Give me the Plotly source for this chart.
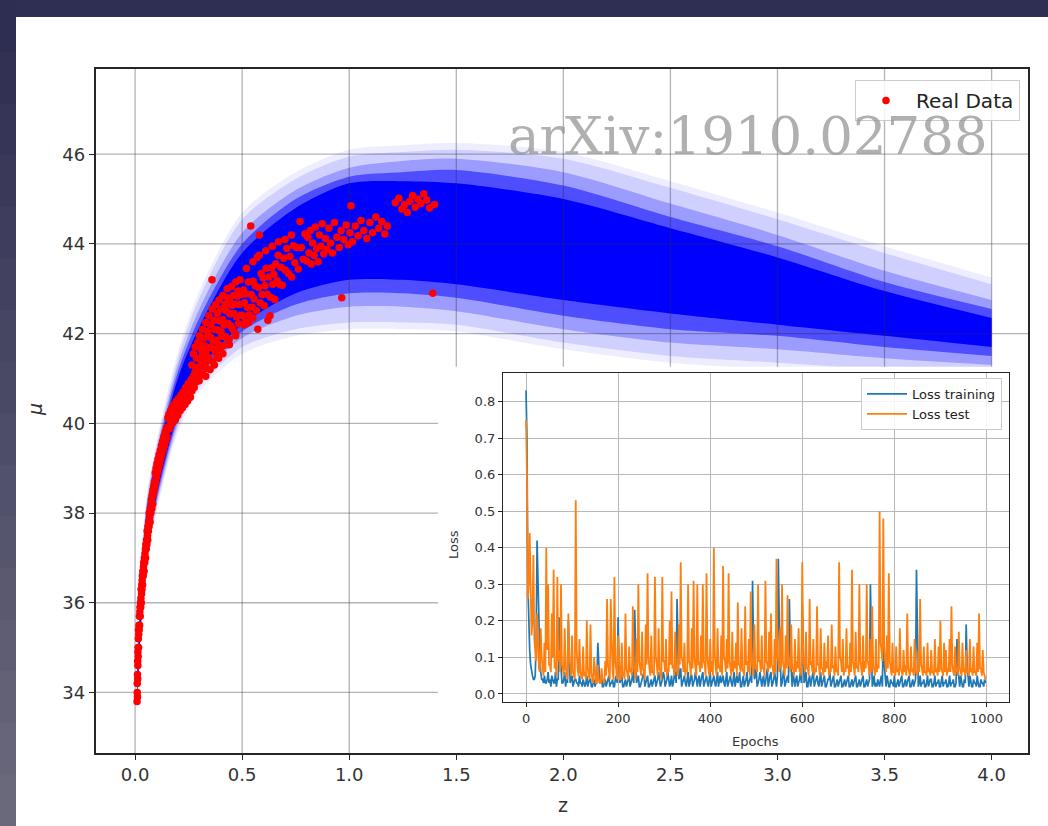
import plotly.graph_objects as go

W, H = 1048, 826

# ---------------- main panel: observed supernova data (z, mu) ----------------
Z_SEG1 = [0.009, 0.010, 0.010, 0.011, 0.011, 0.012, 0.012, 0.013, 0.013, 0.014, 0.014, 0.015, 0.016, 0.016,
          0.017, 0.018, 0.019, 0.020, 0.021, 0.022, 0.023, 0.024, 0.025, 0.026, 0.027, 0.028, 0.029, 0.030,
          0.031, 0.032, 0.033, 0.034, 0.035, 0.036, 0.038, 0.039, 0.040, 0.042, 0.043, 0.045, 0.046, 0.048, 0.049]
MU_SEG1 = [33.8, 34.0, 34.2, 33.9, 34.4, 34.3, 34.7, 34.6, 34.9, 35.0, 34.8, 35.2, 35.0, 35.4,
           35.3, 35.5, 35.4, 35.7, 35.5, 35.8, 35.9, 35.7, 36.0, 35.9, 36.1, 36.3, 36.0, 36.2,
           36.4, 36.3, 36.5, 36.6, 36.4, 36.7, 36.6, 36.8, 36.9, 36.7, 37.0, 36.9, 37.1, 37.2, 37.0]

Z_SEG2 = [0.050, 0.052, 0.053, 0.055, 0.056, 0.058, 0.059, 0.060, 0.062, 0.063, 0.065, 0.066, 0.068, 0.070,
          0.071, 0.073, 0.075, 0.076, 0.078, 0.080, 0.082, 0.083, 0.085, 0.087, 0.089, 0.090, 0.092, 0.094,
          0.096, 0.098, 0.100, 0.102, 0.105, 0.107, 0.110, 0.112, 0.115, 0.118, 0.120, 0.123, 0.125, 0.128,
          0.131, 0.134, 0.137, 0.140, 0.143, 0.146, 0.149]
MU_SEG2 = [37.3, 37.2, 37.4, 37.3, 37.6, 37.5, 37.4, 37.7, 37.6, 37.8, 37.7, 38.0, 37.9, 37.8,
           38.1, 38.0, 38.2, 38.3, 38.1, 38.4, 38.2, 38.5, 38.4, 38.6, 38.5, 38.7, 38.6, 38.9,
           38.7, 39.0, 38.8, 39.1, 38.9, 39.2, 39.0, 39.3, 39.1, 39.4, 39.2, 39.5, 39.3, 39.6,
           39.4, 39.7, 39.5, 39.8, 39.6, 39.9, 39.7]

Z_SEG3 = [0.151, 0.153, 0.156, 0.158, 0.161, 0.163, 0.166, 0.168, 0.171, 0.173, 0.176, 0.178, 0.181, 0.183,
          0.186, 0.188, 0.191, 0.194, 0.196, 0.199, 0.202, 0.204, 0.207, 0.210, 0.213, 0.216, 0.218, 0.221,
          0.224, 0.227, 0.230, 0.233, 0.236, 0.239, 0.242, 0.245, 0.248, 0.252, 0.255, 0.258, 0.262, 0.265,
          0.269, 0.272, 0.276, 0.280, 0.284, 0.288, 0.292, 0.296, 0.299]
MU_SEG3 = [39.85, 40.12, 39.92, 40.20, 39.88, 40.05, 40.28, 39.98, 40.15, 40.35, 40.02, 40.22, 40.42, 40.10,
           40.30, 40.08, 40.48, 40.25, 40.40, 40.18, 40.55, 40.32, 40.45, 40.28, 40.62, 40.40, 40.55, 40.35,
           40.70, 40.48, 40.62, 40.42, 40.80, 40.55, 40.70, 40.50, 40.88, 40.62, 40.78, 40.58, 40.98, 40.72,
           40.88, 41.05, 40.80, 41.15, 40.92, 41.25, 41.02, 41.18, 40.95]

Z_SEG4 = [0.301, 0.303, 0.307, 0.309, 0.314, 0.316, 0.319, 0.324, 0.326, 0.331, 0.333, 0.337, 0.342, 0.344,
          0.349, 0.352, 0.355, 0.359, 0.361, 0.364, 0.368, 0.371, 0.375, 0.378, 0.383, 0.386, 0.389, 0.393,
          0.397, 0.401, 0.404, 0.409, 0.413, 0.416, 0.421, 0.425, 0.428, 0.432, 0.434, 0.439, 0.443, 0.447,
          0.452, 0.456, 0.461, 0.466, 0.469, 0.474, 0.478, 0.483, 0.487, 0.492, 0.497]
MU_SEG4 = [41.43, 41.07, 41.65, 41.31, 41.57, 41.10, 41.44, 41.73, 41.29, 41.58, 41.23, 41.69, 41.47, 41.95,
           41.40, 41.69, 41.91, 43.20, 41.38, 41.83, 41.66, 42.09, 41.59, 41.85, 41.49, 42.08, 41.76, 42.28,
           41.67, 42.05, 41.94, 42.31, 41.73, 42.19, 41.94, 42.51, 41.89, 42.80, 42.23, 41.87, 42.44, 42.17,
           42.63, 42.10, 42.45, 42.01, 42.66, 42.37, 42.84, 42.22, 42.65, 42.41, 42.87]

Z_SEG5 = [0.502, 0.506, 0.511, 0.515, 0.519, 0.524, 0.529, 0.533, 0.540, 0.542, 0.547, 0.551, 0.556, 0.561,
          0.566, 0.570, 0.573, 0.577, 0.580, 0.584, 0.588, 0.593, 0.598, 0.603, 0.607, 0.612, 0.617, 0.620,
          0.624, 0.630, 0.633, 0.638, 0.643, 0.648, 0.652, 0.657, 0.663, 0.668, 0.674, 0.681, 0.687, 0.694,
          0.701, 0.708, 0.716, 0.723, 0.731, 0.739, 0.746, 0.754, 0.762, 0.770, 0.776, 0.785, 0.793]
MU_SEG5 = [42.41, 42.97, 42.69, 42.28, 42.89, 42.59, 43.15, 42.42, 44.40, 42.87, 42.59, 43.17, 42.77, 43.07,
           42.51, 43.70, 42.10, 43.03, 44.20, 42.69, 43.34, 42.87, 43.24, 42.62, 43.07, 43.46, 42.88, 42.30,
           43.26, 42.40, 42.81, 43.47, 43.10, 43.32, 42.76, 43.55, 43.18, 43.75, 43.10, 43.48, 43.08, 43.68,
           43.42, 43.90, 43.34, 43.72, 43.26, 43.96, 43.58, 43.92, 43.44, 44.50, 43.92, 43.66, 44.22]

Z_SEG6 = [0.801, 0.806, 0.812, 0.818, 0.823, 0.829, 0.836, 0.842, 0.848, 0.855, 0.861, 0.868, 0.874, 0.881,
          0.889, 0.896, 0.905, 0.913, 0.922, 0.931, 0.942, 0.953, 0.962, 0.965, 0.974, 0.986, 0.995]
MU_SEG6 = [43.62, 44.15, 43.80, 44.30, 43.55, 44.02, 43.74, 44.38, 43.90, 43.60, 44.20, 43.95, 44.45, 43.78,
           44.12, 43.88, 44.35, 44.02, 43.80, 44.48, 44.15, 43.92, 44.30, 42.80, 44.10, 44.42, 43.98]

Z_SEG7 = [1.003, 1.008, 1.015, 1.028, 1.041, 1.055, 1.068, 1.082, 1.096, 1.109, 1.124, 1.138, 1.152, 1.166,
          1.178, 1.215, 1.232, 1.246, 1.259, 1.271, 1.283, 1.296, 1.308, 1.321, 1.335, 1.348, 1.362, 1.375,
          1.390, 1.398]
MU_SEG7 = [44.25, 44.85, 44.05, 44.40, 44.18, 44.52, 44.30, 44.12, 44.48, 44.25, 44.60, 44.35, 44.50, 44.22,
           44.40, 44.92, 45.02, 44.78, 44.88, 44.70, 44.95, 45.08, 44.82, 45.00, 44.90, 45.12, 44.98, 44.80,
           42.90, 44.88]

# upper and lower edges of the scattered cloud at intermediate redshift
Z_UPPER_EDGE = [0.265, 0.272, 0.280, 0.287, 0.293, 0.300, 0.308, 0.315, 0.322, 0.330, 0.338, 0.345, 0.352,
                0.360, 0.368, 0.376, 0.384, 0.392, 0.400, 0.410, 0.420, 0.430, 0.440, 0.450, 0.460, 0.470,
                0.480, 0.490, 0.520, 0.550, 0.580, 0.610, 0.640, 0.670, 0.700, 0.730]
MU_UPPER_EDGE = [41.30, 41.55, 41.70, 41.45, 41.80, 41.95, 41.75, 42.10, 41.90, 42.25, 42.05, 42.40, 42.20,
                 42.55, 42.30, 42.65, 42.45, 42.75, 42.55, 42.85, 42.65, 43.00, 42.75, 43.05, 42.85, 43.15,
                 42.95, 43.20, 43.45, 43.60, 43.75, 43.85, 43.95, 44.05, 44.10, 44.20]
Z_LOWER_EDGE = [0.330, 0.350, 0.370, 0.390, 0.410, 0.440, 0.470, 0.510, 0.530, 0.550]
MU_LOWER_EDGE = [41.05, 41.20, 41.30, 41.45, 41.55, 41.75, 41.95, 42.20, 42.25, 42.35]

# ---------------- main panel: predicted band (nested envelopes, outer -> core) ----------------
BAND_Z = [0.01, 0.05, 0.1, 0.2, 0.3, 0.5, 0.75, 1.0, 1.25, 1.5, 2.0, 2.5, 3.0, 3.5, 4.0]
BAND_UP_0 = [34.6, 38.2, 39.6, 41.6, 42.95, 44.7, 45.6, 46.1, 46.2, 46.25, 46.05, 45.4, 44.7, 43.95, 43.25]
BAND_UP_1 = [34.55, 38.15, 39.5, 41.45, 42.8, 44.55, 45.45, 45.95, 46.05, 46.1, 45.9, 45.25, 44.55, 43.8, 43.1]
BAND_UP_2 = [34.5, 38.05, 39.4, 41.3, 42.55, 44.25, 45.2, 45.7, 45.85, 45.9, 45.6, 44.9, 44.2, 43.4, 42.75]
BAND_UP_3 = [34.45, 37.95, 39.3, 41.15, 42.35, 44.0, 45.0, 45.5, 45.6, 45.65, 45.3, 44.6, 43.95, 43.15, 42.55]
BAND_UP_CORE = [34.4, 37.85, 39.2, 41.0, 42.15, 43.8, 44.8, 45.35, 45.4, 45.35, 45.0, 44.35, 43.7, 42.95, 42.35]
BAND_LO_CORE = [33.9, 37.0, 38.4, 40.2, 41.2, 42.2, 42.9, 43.2, 43.2, 43.1, 42.75, 42.45, 42.2, 41.95, 41.7]
BAND_LO_3 = [33.85, 36.95, 38.3, 40.1, 41.05, 42.05, 42.65, 42.9, 42.9, 42.8, 42.4, 42.1, 41.95, 41.7, 41.5]
BAND_LO_2 = [33.8, 36.9, 38.2, 40.0, 40.95, 41.9, 42.4, 42.6, 42.6, 42.5, 42.1, 41.8, 41.65, 41.45, 41.3]
BAND_LO_1 = [33.7, 36.8, 38.1, 39.9, 40.8, 41.7, 42.1, 42.25, 42.25, 42.2, 41.8, 41.5, 41.35, 41.2, 41.1]
BAND_LO_0 = [33.65, 36.75, 38.0, 39.8, 40.7, 41.55, 41.95, 42.1, 42.1, 42.05, 41.65, 41.35, 41.2, 41.1, 41.0]

Z_TICKS = [0.0, 0.5, 1.0, 1.5, 2.0, 2.5, 3.0, 3.5, 4.0]
MU_TICKS = [34, 36, 38, 40, 42, 44, 46]
X_RANGE = [-0.185, 4.17]
Y_RANGE = [32.65, 47.9]

# ---------------- inset: loss curves ----------------
# values at epochs 0, 4, 8, ... and at the in-between epochs 2, 6, 10, ...
EPOCHS = list(range(0, 1000, 4))
EPOCHS_MID = list(range(2, 1000, 4))
LOSS_TRAIN = [
    0.83, 0.30, 0.12, 0.06, 0.04, 0.05, 0.42, 0.20, 0.06, 0.04,
    0.05, 0.03, 0.06, 0.04, 0.05, 0.03, 0.06, 0.04, 0.21, 0.05,
    0.03, 0.06, 0.04, 0.20, 0.03, 0.05, 0.03, 0.04, 0.03, 0.05,
    0.03, 0.04, 0.02, 0.05, 0.03, 0.04, 0.02, 0.04, 0.03, 0.14,
    0.03, 0.05, 0.02, 0.04, 0.03, 0.05, 0.03, 0.04, 0.02, 0.05,
    0.21, 0.03, 0.05, 0.02, 0.04, 0.03, 0.05, 0.03, 0.06, 0.23,
    0.03, 0.05, 0.02, 0.04, 0.06, 0.03, 0.05, 0.02, 0.04, 0.03,
    0.05, 0.03, 0.06, 0.02, 0.04, 0.05, 0.03, 0.06, 0.02, 0.05,
    0.03, 0.06, 0.26, 0.04, 0.07, 0.03, 0.05, 0.02, 0.06, 0.03,
    0.05, 0.03, 0.06, 0.02, 0.05, 0.04, 0.06, 0.03, 0.05, 0.02,
    0.06, 0.03, 0.05, 0.02, 0.06, 0.04, 0.03, 0.05, 0.02, 0.06,
    0.03, 0.05, 0.02, 0.06, 0.04, 0.03, 0.06, 0.02, 0.05, 0.03,
    0.06, 0.03, 0.05, 0.31, 0.04, 0.07, 0.03, 0.06, 0.02, 0.05,
    0.03, 0.07, 0.04, 0.06, 0.03, 0.06, 0.02, 0.37, 0.05, 0.03,
    0.07, 0.03, 0.05, 0.26, 0.04, 0.06, 0.02, 0.05, 0.03, 0.06,
    0.25, 0.03, 0.06, 0.02, 0.05, 0.04, 0.06, 0.03, 0.05, 0.02,
    0.06, 0.03, 0.05, 0.02, 0.04, 0.06, 0.03, 0.05, 0.02, 0.04,
    0.03, 0.05, 0.02, 0.04, 0.03, 0.05, 0.02, 0.04, 0.03, 0.05,
    0.02, 0.04, 0.03, 0.05, 0.02, 0.04, 0.03, 0.30, 0.02, 0.05,
    0.03, 0.04, 0.02, 0.05, 0.20, 0.03, 0.05, 0.02, 0.04, 0.03,
    0.05, 0.02, 0.04, 0.03, 0.05, 0.02, 0.04, 0.03, 0.05, 0.02,
    0.04, 0.03, 0.34, 0.02, 0.05, 0.03, 0.04, 0.02, 0.05, 0.03,
    0.04, 0.02, 0.05, 0.03, 0.04, 0.02, 0.05, 0.03, 0.04, 0.02,
    0.05, 0.03, 0.04, 0.02, 0.15, 0.03, 0.05, 0.02, 0.04, 0.19,
    0.03, 0.05, 0.02, 0.04, 0.03, 0.05, 0.02, 0.04, 0.03, 0.04,
]
LOSS_TRAIN_MID = [
    0.70, 0.18, 0.08, 0.05, 0.04, 0.15, 0.30, 0.10, 0.04, 0.03,
    0.03, 0.04, 0.03, 0.02, 0.04, 0.03, 0.02, 0.04, 0.12, 0.03,
    0.04, 0.02, 0.03, 0.10, 0.04, 0.02, 0.04, 0.03, 0.02, 0.03,
    0.02, 0.03, 0.03, 0.02, 0.04, 0.02, 0.03, 0.02, 0.04, 0.08,
    0.04, 0.02, 0.03, 0.02, 0.04, 0.02, 0.03, 0.02, 0.04, 0.03,
    0.08, 0.04, 0.02, 0.03, 0.02, 0.04, 0.02, 0.04, 0.03, 0.10,
    0.04, 0.02, 0.03, 0.05, 0.02, 0.04, 0.02, 0.03, 0.02, 0.04,
    0.02, 0.04, 0.03, 0.03, 0.06, 0.02, 0.04, 0.03, 0.03, 0.02,
    0.05, 0.03, 0.14, 0.05, 0.02, 0.04, 0.03, 0.04, 0.02, 0.05,
    0.02, 0.04, 0.03, 0.04, 0.02, 0.05, 0.02, 0.04, 0.03, 0.04,
    0.02, 0.04, 0.03, 0.04, 0.02, 0.05, 0.04, 0.03, 0.04, 0.02,
    0.04, 0.03, 0.04, 0.02, 0.05, 0.04, 0.02, 0.04, 0.02, 0.04,
    0.02, 0.04, 0.03, 0.15, 0.05, 0.02, 0.04, 0.03, 0.04, 0.02,
    0.05, 0.02, 0.05, 0.02, 0.04, 0.03, 0.05, 0.20, 0.02, 0.05,
    0.02, 0.04, 0.03, 0.12, 0.02, 0.03, 0.04, 0.02, 0.04, 0.03,
    0.12, 0.04, 0.02, 0.04, 0.02, 0.05, 0.02, 0.04, 0.03, 0.04,
    0.02, 0.04, 0.02, 0.03, 0.04, 0.02, 0.04, 0.02, 0.03, 0.02,
    0.04, 0.02, 0.03, 0.02, 0.04, 0.02, 0.03, 0.02, 0.04, 0.02,
    0.03, 0.02, 0.04, 0.02, 0.03, 0.02, 0.04, 0.15, 0.03, 0.02,
    0.02, 0.03, 0.04, 0.02, 0.08, 0.02, 0.03, 0.02, 0.03, 0.02,
    0.02, 0.03, 0.02, 0.04, 0.02, 0.03, 0.02, 0.04, 0.02, 0.03,
    0.02, 0.04, 0.18, 0.03, 0.02, 0.03, 0.02, 0.03, 0.02, 0.04,
    0.02, 0.03, 0.02, 0.03, 0.02, 0.04, 0.02, 0.03, 0.02, 0.03,
    0.02, 0.03, 0.02, 0.03, 0.07, 0.02, 0.03, 0.02, 0.03, 0.08,
    0.02, 0.03, 0.02, 0.03, 0.02, 0.03, 0.02, 0.03, 0.02, 0.03,
]
LOSS_TEST = [
    0.75, 0.26, 0.44, 0.16, 0.38, 0.10, 0.22, 0.07, 0.18, 0.06,
    0.14, 0.40, 0.30, 0.08, 0.22, 0.34, 0.09, 0.32, 0.12, 0.30,
    0.07, 0.18, 0.06, 0.22, 0.08, 0.16, 0.05, 0.53, 0.07, 0.15,
    0.05, 0.13, 0.06, 0.20, 0.05, 0.19, 0.04, 0.10, 0.03, 0.08,
    0.03, 0.07, 0.04, 0.09, 0.26, 0.05, 0.26, 0.06, 0.32, 0.05,
    0.16, 0.04, 0.14, 0.06, 0.22, 0.05, 0.13, 0.07, 0.24, 0.06,
    0.15, 0.30, 0.07, 0.17, 0.06, 0.19, 0.33, 0.07, 0.16, 0.06,
    0.32, 0.08, 0.18, 0.06, 0.32, 0.09, 0.15, 0.07, 0.20, 0.28,
    0.08, 0.17, 0.06, 0.19, 0.36, 0.09, 0.14, 0.07, 0.30, 0.08,
    0.18, 0.31, 0.07, 0.30, 0.09, 0.16, 0.30, 0.08, 0.33, 0.07,
    0.15, 0.09, 0.40, 0.07, 0.18, 0.08, 0.16, 0.35, 0.09, 0.15,
    0.33, 0.07, 0.17, 0.09, 0.14, 0.25, 0.08, 0.18, 0.06, 0.24,
    0.09, 0.15, 0.28, 0.07, 0.19, 0.08, 0.30, 0.09, 0.16, 0.07,
    0.31, 0.08, 0.17, 0.22, 0.07, 0.15, 0.37, 0.09, 0.18, 0.30,
    0.07, 0.16, 0.27, 0.08, 0.19, 0.07, 0.15, 0.09, 0.18, 0.07,
    0.36, 0.08, 0.17, 0.07, 0.26, 0.09, 0.15, 0.07, 0.24, 0.08,
    0.18, 0.07, 0.14, 0.09, 0.16, 0.07, 0.19, 0.08, 0.13, 0.07,
    0.36, 0.09, 0.15, 0.07, 0.18, 0.08, 0.14, 0.34, 0.07, 0.17,
    0.08, 0.30, 0.07, 0.16, 0.09, 0.30, 0.08, 0.15, 0.24, 0.07,
    0.15, 0.08, 0.50, 0.12, 0.48, 0.09, 0.16, 0.33, 0.07, 0.14,
    0.06, 0.13, 0.07, 0.18, 0.06, 0.12, 0.08, 0.22, 0.06, 0.13,
    0.07, 0.15, 0.06, 0.12, 0.26, 0.07, 0.13, 0.06, 0.14, 0.07,
    0.12, 0.06, 0.15, 0.07, 0.13, 0.20, 0.06, 0.14, 0.12, 0.07,
    0.15, 0.24, 0.06, 0.13, 0.07, 0.17, 0.06, 0.14, 0.07, 0.12,
    0.06, 0.15, 0.07, 0.13, 0.06, 0.14, 0.22, 0.07, 0.12, 0.05,
]
LOSS_TEST_MID = [
    0.60, 0.30, 0.25, 0.20, 0.15, 0.09, 0.12, 0.06, 0.10, 0.05,
    0.06, 0.12, 0.08, 0.06, 0.10, 0.07, 0.05, 0.09, 0.06, 0.08,
    0.05, 0.07, 0.04, 0.09, 0.05, 0.06, 0.04, 0.12, 0.05, 0.06,
    0.04, 0.05, 0.04, 0.07, 0.04, 0.06, 0.03, 0.05, 0.03, 0.04,
    0.03, 0.04, 0.03, 0.05, 0.08, 0.04, 0.10, 0.04, 0.09, 0.04,
    0.06, 0.04, 0.05, 0.04, 0.07, 0.04, 0.06, 0.05, 0.08, 0.04,
    0.06, 0.09, 0.05, 0.07, 0.04, 0.08, 0.10, 0.05, 0.06, 0.05,
    0.10, 0.05, 0.07, 0.04, 0.09, 0.06, 0.05, 0.06, 0.08, 0.07,
    0.05, 0.07, 0.05, 0.08, 0.10, 0.06, 0.05, 0.06, 0.09, 0.05,
    0.07, 0.10, 0.05, 0.08, 0.06, 0.07, 0.09, 0.05, 0.10, 0.05,
    0.06, 0.05, 0.11, 0.05, 0.07, 0.06, 0.05, 0.10, 0.06, 0.07,
    0.09, 0.05, 0.06, 0.07, 0.05, 0.08, 0.06, 0.07, 0.05, 0.08,
    0.06, 0.05, 0.09, 0.05, 0.07, 0.06, 0.09, 0.06, 0.07, 0.05,
    0.09, 0.06, 0.07, 0.08, 0.05, 0.06, 0.10, 0.06, 0.07, 0.09,
    0.05, 0.07, 0.08, 0.06, 0.07, 0.05, 0.06, 0.07, 0.06, 0.05,
    0.10, 0.06, 0.07, 0.05, 0.08, 0.06, 0.05, 0.06, 0.08, 0.05,
    0.07, 0.05, 0.06, 0.07, 0.05, 0.06, 0.07, 0.05, 0.06, 0.05,
    0.10, 0.06, 0.05, 0.06, 0.07, 0.05, 0.06, 0.09, 0.05, 0.07,
    0.06, 0.09, 0.05, 0.06, 0.07, 0.09, 0.05, 0.06, 0.07, 0.05,
    0.06, 0.07, 0.14, 0.09, 0.13, 0.06, 0.07, 0.09, 0.05, 0.06,
    0.05, 0.06, 0.05, 0.07, 0.05, 0.06, 0.05, 0.07, 0.05, 0.06,
    0.05, 0.06, 0.05, 0.06, 0.08, 0.05, 0.06, 0.05, 0.06, 0.05,
    0.06, 0.05, 0.06, 0.05, 0.06, 0.07, 0.05, 0.06, 0.05, 0.06,
    0.06, 0.08, 0.05, 0.06, 0.05, 0.07, 0.05, 0.06, 0.05, 0.06,
    0.05, 0.06, 0.05, 0.06, 0.05, 0.06, 0.07, 0.05, 0.06, 0.04,
]
EPOCH_TICKS = [0, 200, 400, 600, 800, 1000]
LOSS_TICKS = [0.0, 0.1, 0.2, 0.3, 0.4, 0.5, 0.6, 0.7, 0.8]
EPOCH_RANGE = [-50, 1049]
LOSS_RANGE = [-0.022, 0.878]

# layout constants (white inset panel, in main-data units)
PANEL_Z0 = 1.414
PANEL_MU1 = 41.26

Z_DATA = Z_SEG1 + Z_SEG2 + Z_SEG3 + Z_SEG4 + Z_SEG5 + Z_SEG6 + Z_SEG7 + Z_UPPER_EDGE + Z_LOWER_EDGE
MU_DATA = MU_SEG1 + MU_SEG2 + MU_SEG3 + MU_SEG4 + MU_SEG5 + MU_SEG6 + MU_SEG7 + MU_UPPER_EDGE + MU_LOWER_EDGE


def interleave(a, b):
    out = []
    for p, q in zip(a, b):
        out += [p, q]
    return out


EP_ALL = interleave(EPOCHS, EPOCHS_MID)
TRAIN_ALL = interleave(LOSS_TRAIN, LOSS_TRAIN_MID)
TEST_ALL = interleave(LOSS_TEST, LOSS_TEST_MID)

FONT = "DejaVu Sans"
fig = go.Figure()

# nested band layers (each fill stacks on the previous ones)
layers = [
    (BAND_UP_0, BAND_LO_0, 0.07),
    (BAND_UP_1, BAND_LO_1, 0.12),
    (BAND_UP_2, BAND_LO_2, 0.25),
    (BAND_UP_3, BAND_LO_3, 0.50),
    (BAND_UP_CORE, BAND_LO_CORE, 1.0),
]
for up, lo, a in layers:
    fig.add_trace(go.Scatter(x=BAND_Z, y=up, mode="lines", line=dict(width=0, shape="spline", smoothing=0.8),
                             showlegend=False, hoverinfo="skip"))
    fig.add_trace(go.Scatter(x=BAND_Z, y=lo, mode="lines", line=dict(width=0, shape="spline", smoothing=0.8),
                             fill="tonexty", fillcolor=f"rgba(0,0,255,{a})",
                             showlegend=False, hoverinfo="skip"))

# grid lines drawn over the band (matplotlib draws the grid above filled areas)
gx, gy = [], []
for zt in Z_TICKS:
    gx += [zt, zt, None]
    gy += [Y_RANGE[0], Y_RANGE[1], None]
for mt in MU_TICKS:
    gx += [X_RANGE[0], X_RANGE[1], None]
    gy += [mt, mt, None]
fig.add_trace(go.Scatter(x=gx, y=gy, mode="lines", line=dict(color="rgba(45,45,70,0.36)", width=1.3),
                         showlegend=False, hoverinfo="skip"))

# white panel behind the inset
fig.add_trace(go.Scatter(x=[PANEL_Z0, X_RANGE[1] + 1, X_RANGE[1] + 1, PANEL_Z0, PANEL_Z0],
                         y=[Y_RANGE[0] - 1, Y_RANGE[0] - 1, PANEL_MU1, PANEL_MU1, Y_RANGE[0] - 1],
                         mode="lines", fill="toself", fillcolor="white", line=dict(width=0),
                         showlegend=False, hoverinfo="skip"))

# real data
fig.add_trace(go.Scatter(x=Z_DATA, y=MU_DATA, mode="markers", name="Real Data",
                         marker=dict(color="#ff0000", size=7.5, line=dict(width=0)), legend="legend"))

# inset loss curves
fig.add_trace(go.Scatter(x=EP_ALL, y=TRAIN_ALL, mode="lines", name="Loss training",
                         line=dict(color="#1f77b4", width=1.7), xaxis="x2", yaxis="y2", legend="legend2"))
fig.add_trace(go.Scatter(x=EP_ALL, y=TEST_ALL, mode="lines", name="Loss test",
                         line=dict(color="#ff7f0e", width=1.8), xaxis="x2", yaxis="y2", legend="legend2"))

# slide background: white page + gradient strip on the left
shapes = [dict(type="rect", xref="paper", yref="paper", x0=16 / W, x1=1.02, y0=-0.02, y1=1 - 17 / H,
               fillcolor="white", line=dict(width=0), layer="below")]
top_c = (46, 46, 82)
bot_c = (106, 105, 124)
n = 16
for i in range(n):
    t = i / (n - 1)
    c = tuple(int(bot_c[k] + (top_c[k] - bot_c[k]) * t) for k in range(3))
    shapes.append(dict(type="rect", xref="paper", yref="paper", x0=0, x1=16 / W,
                       y0=i / n, y1=(i + 1) / n + 0.002, fillcolor=f"rgb{c}", line=dict(width=0), layer="below"))

axis_common = dict(showline=True, mirror=True, linecolor="#262626", ticks="outside",
                   tickcolor="#262626", zeroline=False)

fig.update_layout(
    width=W, height=H, margin=dict(l=0, r=0, t=0, b=0),
    paper_bgcolor="#2e2f52", plot_bgcolor="white",
    font=dict(family=FONT, color="#333333"),
    shapes=shapes,
    xaxis=dict(domain=[95.5 / W, 1028 / W], range=X_RANGE, tickvals=Z_TICKS,
               ticktext=[f"{v:.1f}" for v in Z_TICKS], showgrid=False, linewidth=1.5, ticklen=5,
               tickfont=dict(size=18, color="#333333"), **axis_common),
    yaxis=dict(domain=[1 - 753 / H, 1 - 69 / H], range=Y_RANGE, tickvals=MU_TICKS,
               showgrid=False, linewidth=1.5, ticklen=5,
               tickfont=dict(size=18, color="#333333"), **axis_common),
    xaxis2=dict(domain=[503 / W, 1009 / W], anchor="y2", range=EPOCH_RANGE, tickvals=EPOCH_TICKS,
                showgrid=True, gridcolor="#b8b8b8", gridwidth=1, linewidth=1.2, ticklen=4,
                tickfont=dict(size=13, color="#333333"), **axis_common),
    yaxis2=dict(domain=[1 - 702 / H, 1 - 373 / H], anchor="x2", range=LOSS_RANGE, tickvals=LOSS_TICKS,
                tickformat=".1f", showgrid=True, gridcolor="#b8b8b8", gridwidth=1, linewidth=1.2, ticklen=4,
                tickfont=dict(size=13, color="#333333"), **axis_common),
    legend=dict(x=1020 / W, xanchor="right", y=1 - 80 / H, yanchor="top",
                bgcolor="rgba(255,255,255,0.85)", bordercolor="#cccccc", borderwidth=1,
                font=dict(size=20, color="#222222"), itemwidth=50),
    legend2=dict(x=1002 / W, xanchor="right", y=1 - 378 / H, yanchor="top",
                 bgcolor="rgba(255,255,255,0.85)", bordercolor="#cccccc", borderwidth=1,
                 font=dict(size=13, color="#222222"), itemwidth=40),
    annotations=[
        dict(text="arXiv:1910.02788", x=748 / W, y=1 - 136 / H, xref="paper", yref="paper",
             xanchor="center", yanchor="middle", showarrow=False,
             font=dict(family="DejaVu Serif", size=53, color="rgba(150,150,150,0.75)")),
        dict(text="z", x=563 / W, y=1 - 805 / H, xref="paper", yref="paper", showarrow=False,
             xanchor="center", yanchor="middle", font=dict(size=19, color="#333333")),
        dict(text="<i>μ</i>", x=35 / W, y=1 - 410 / H, xref="paper", yref="paper", showarrow=False,
             xanchor="center", yanchor="middle", textangle=-90, font=dict(size=19, color="#333333")),
        dict(text="Loss", x=453 / W, y=1 - 545 / H, xref="paper", yref="paper", showarrow=False,
             xanchor="center", yanchor="middle", textangle=-90, font=dict(size=13, color="#333333")),
        dict(text="Epochs", x=755 / W, y=1 - 741 / H, xref="paper", yref="paper", showarrow=False,
             xanchor="center", yanchor="middle", font=dict(size=13, color="#333333")),
    ],
)

fig.write_html("out.html", config={"displayModeBar": False},
               post_script="document.body.style.margin='0';document.body.style.overflow='hidden';")
